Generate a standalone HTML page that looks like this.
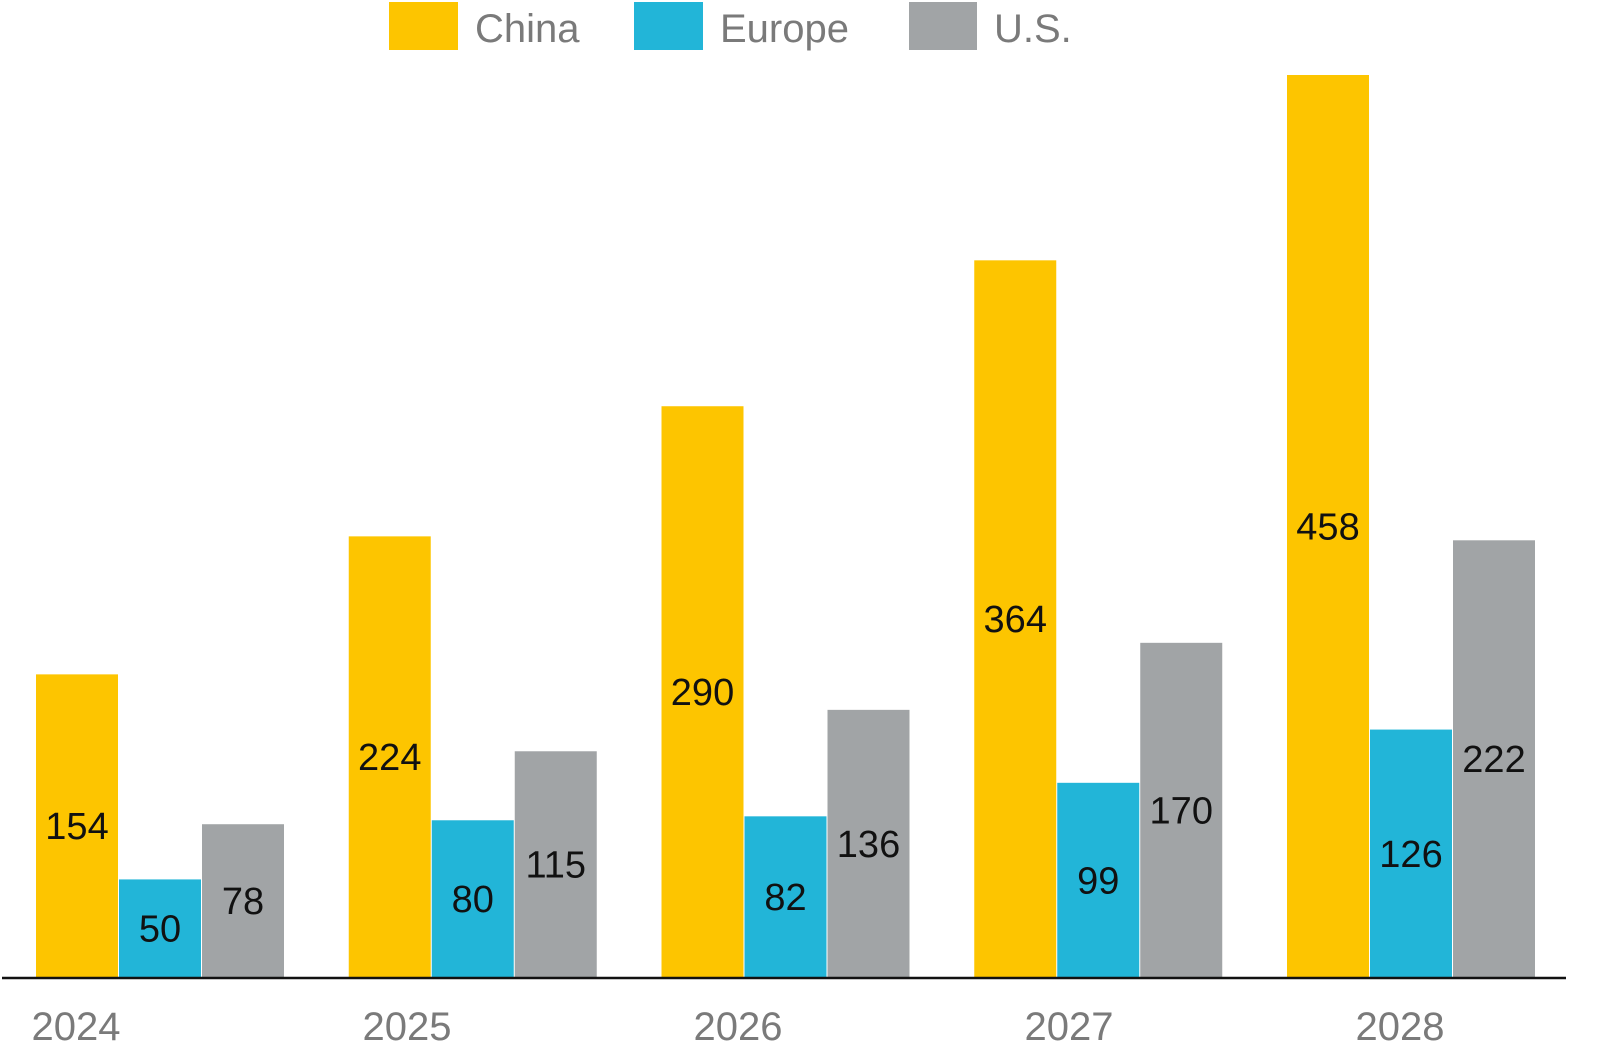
<!DOCTYPE html>
<html><head><meta charset="utf-8"><style>
html,body{margin:0;padding:0;background:#fff;}
svg{display:block;font-family:"Liberation Sans",sans-serif;}
</style></head><body>
<svg id="chart" width="1602" height="1064" viewBox="0 0 1602 1064">
<g id="legend">
<rect x="389" y="2" width="69" height="48" fill="#FDC500"/>
<text x="475" y="42" font-size="40" fill="#7a7a7a">China</text>
<rect x="634" y="2" width="69" height="48" fill="#22B5D8"/>
<text x="720" y="42" font-size="40" fill="#7a7a7a">Europe</text>
<rect x="909" y="2" width="68" height="48" fill="#A1A4A6"/>
<text x="994" y="42" font-size="40" fill="#7a7a7a">U.S.</text>
</g>
<g id="bars"></g>
<line x1="2" y1="978" x2="1566" y2="978" stroke="#111" stroke-width="2.5"/>
<g id="xlabels"></g>
</svg>
<script>
const categories = ["2024","2025","2026","2027","2028"];
const china = [154,224,290,364,458];
const europe = [50,80,82,99,126];
const us = [78,115,136,170,222];
const seriesNames = ["china","europe","us"];
const colors = ["#FDC500","#22B5D8","#A1A4A6"];
const NS="http://www.w3.org/2000/svg";
const baseY=978, topY=75, maxV=458;
function yScale(v){return baseY-(baseY-topY)*v/maxV;}
function xBar(i,s){return 36+312.75*i+83*s;}
const barW=82;
const bars=document.getElementById('bars');
const allSeries=[china,europe,us];
allSeries.forEach((arr,s)=>{
  arr.forEach((v,i)=>{
    const r=document.createElementNS(NS,'rect');
    
    
    const y=yScale(v);
    r.setAttribute('x',xBar(i,s));r.setAttribute('y',y);
    r.setAttribute('width',barW);r.setAttribute('height',baseY-y);
    r.setAttribute('fill',colors[s]);
    bars.appendChild(r);
    const t=document.createElementNS(NS,'text');
    
    
    t.setAttribute('x',xBar(i,s)+barW/2);t.setAttribute('y',(y+baseY)/2+13);
    t.setAttribute('text-anchor','middle');t.setAttribute('font-size','38');t.setAttribute('fill','#111');
    t.textContent=v;
    bars.appendChild(t);
  });
});
const xl=document.getElementById('xlabels');
categories.forEach((c,i)=>{
  const t=document.createElementNS(NS,'text');
  
  
  t.setAttribute('x',76+331*i);t.setAttribute('y',1040);
  t.setAttribute('text-anchor','middle');t.setAttribute('font-size','40');t.setAttribute('fill','#7a7a7a');
  t.textContent=c;
  xl.appendChild(t);
});
</script>
</body></html>
